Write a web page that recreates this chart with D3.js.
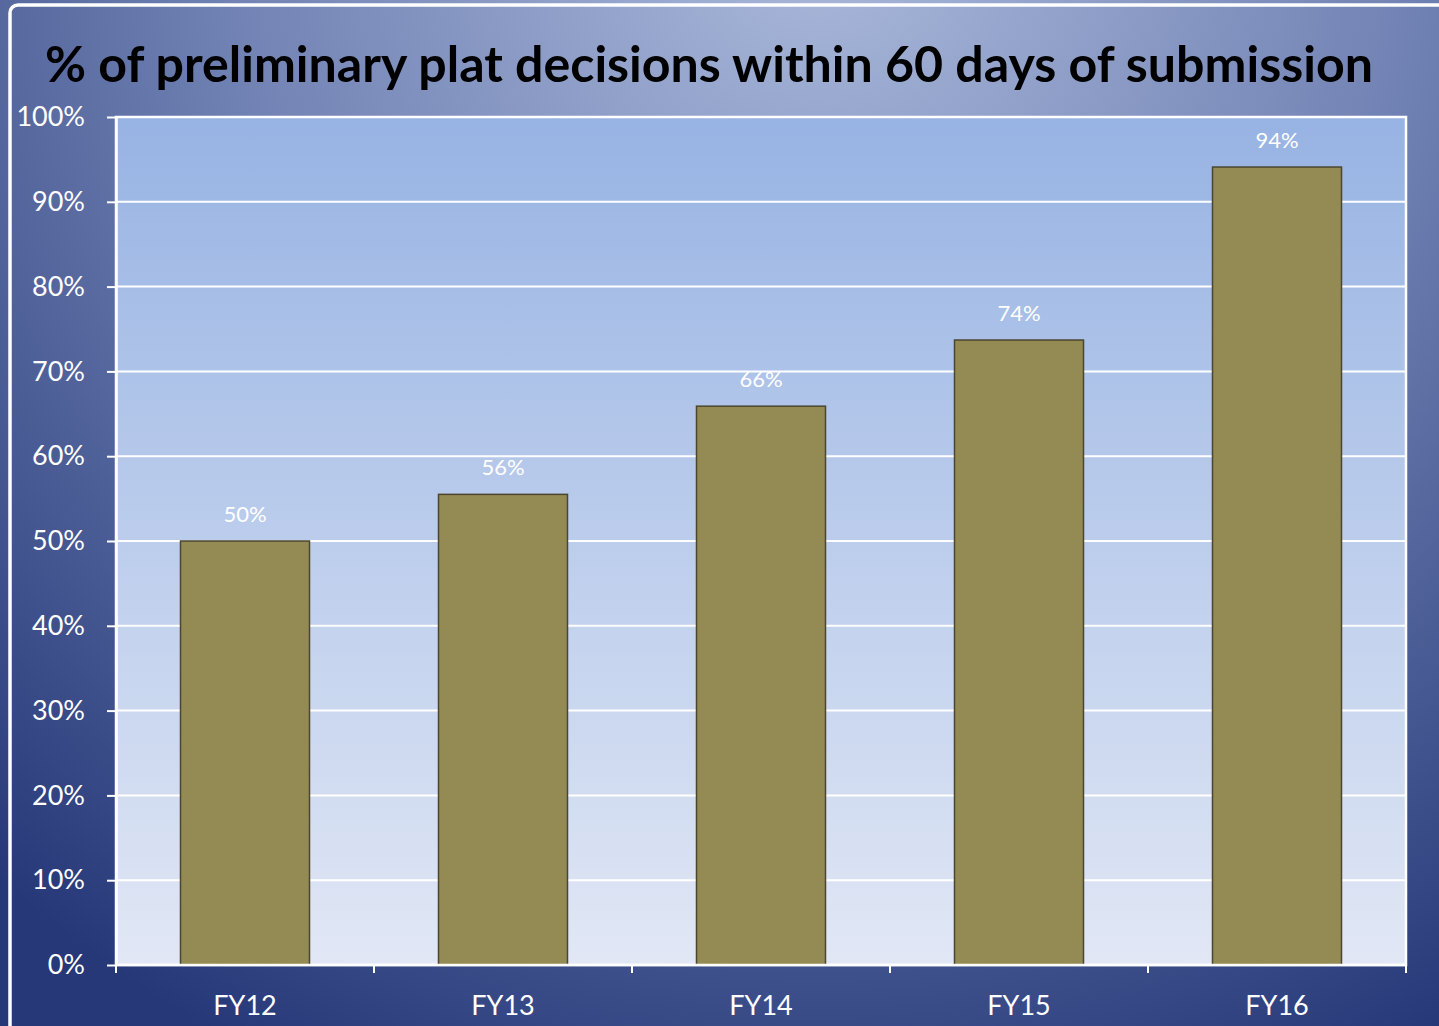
<!DOCTYPE html>
<html>
<head>
<meta charset="utf-8">
<script src="https://cdn.jsdelivr.net/npm/d3@7"></script>
<style>
  html, body { margin: 0; padding: 0; background: #2a3c78; }
  svg { display: block; }
</style>
</head>
<body>
<div id="chart"></div>
<script>
// chart data
const categories = ["FY12", "FY13", "FY14", "FY15", "FY16"];
const values = [0.50, 0.555, 0.659, 0.737, 0.941];
const valueLabels = ["50%", "56%", "66%", "74%", "94%"];
const yTicks = [0, 0.1, 0.2, 0.3, 0.4, 0.5, 0.6, 0.7, 0.8, 0.9, 1.0];
const titleText = "% of preliminary plat decisions within 60 days of submission";

const width = 1439;
const height = 1026;
const margin = { top: 117, right: 33, bottom: 61, left: 116 };
const font = "Lato, 'Open Sans', sans-serif";

const svg = d3.select("#chart").append("svg")
    .attr("width", width)
    .attr("height", height);

const defs = svg.append("defs");

// page background: light at top centre, navy towards the edges
const bgGrad = defs.append("radialGradient")
    .attr("id", "bg-grad")
    .attr("gradientUnits", "userSpaceOnUse")
    .attr("cx", 820).attr("cy", -60).attr("r", 1250);
bgGrad.append("stop").attr("offset", "0%").attr("stop-color", "#aab8da");
bgGrad.append("stop").attr("offset", "45%").attr("stop-color", "#7485b6");
bgGrad.append("stop").attr("offset", "100%").attr("stop-color", "#263878");

// plot area: blue at top, fading to pale at the bottom
const plotGrad = defs.append("linearGradient")
    .attr("id", "plot-grad")
    .attr("x1", 0).attr("y1", 0).attr("x2", 0).attr("y2", 1);
plotGrad.append("stop").attr("offset", "0%").attr("stop-color", "#97b3e3");
plotGrad.append("stop").attr("offset", "100%").attr("stop-color", "#e1e7f5");

svg.append("rect")
    .attr("width", width)
    .attr("height", height)
    .attr("fill", "url(#bg-grad)");

// white outer frame (runs off the right and bottom edges)
svg.append("rect")
    .attr("x", 10).attr("y", 5)
    .attr("width", width + 20).attr("height", height + 20)
    .attr("rx", 8)
    .attr("fill", "none")
    .attr("stroke", "#ffffff")
    .attr("stroke-width", 3.5);

const innerW = width - margin.left - margin.right;
const innerH = height - margin.top - margin.bottom;

const x = d3.scaleBand()
    .domain(categories)
    .range([margin.left, margin.left + innerW])
    .paddingInner(0.5)
    .paddingOuter(0.25);

const y = d3.scaleLinear()
    .domain([0, 1])
    .range([margin.top + innerH, margin.top]);

// plot background
svg.append("rect")
    .attr("x", margin.left)
    .attr("y", margin.top)
    .attr("width", innerW)
    .attr("height", innerH)
    .attr("fill", "url(#plot-grad)");

// gridlines
svg.append("g")
    .selectAll("line")
    .data(yTicks.filter(d => d > 0))
    .join("line")
    .attr("x1", margin.left)
    .attr("x2", margin.left + innerW)
    .attr("y1", d => y(d))
    .attr("y2", d => y(d))
    .attr("stroke", "#ffffff")
    .attr("stroke-width", 2);

// plot border (top/right/left)
svg.append("rect")
    .attr("x", margin.left)
    .attr("y", margin.top)
    .attr("width", innerW)
    .attr("height", innerH)
    .attr("fill", "none")
    .attr("stroke", "#ffffff")
    .attr("stroke-width", 2.5);

// bars
svg.append("g")
    .selectAll("rect")
    .data(values)
    .join("rect")
    .attr("x", (d, i) => x(categories[i]))
    .attr("y", d => y(d))
    .attr("width", x.bandwidth())
    .attr("height", d => y(0) - y(d))
    .attr("fill", "#948a54")
    .attr("stroke", "#4a4630")
    .attr("stroke-width", 1.5);

// value labels
svg.append("g")
    .selectAll("text")
    .data(values)
    .join("text")
    .attr("x", (d, i) => x(categories[i]) + x.bandwidth() / 2)
    .attr("y", d => y(d) - 19)
    .attr("text-anchor", "middle")
    .attr("fill", "#ffffff")
    .style("font-family", font)
    .style("font-size", "22px")
    .text((d, i) => valueLabels[i]);

// y axis
const yAxis = svg.append("g")
    .attr("transform", `translate(${margin.left},0)`)
    .call(d3.axisLeft(y)
        .tickValues(yTicks)
        .tickFormat(d3.format(".0%"))
        .tickSizeInner(9)
        .tickSizeOuter(0)
        .tickPadding(22));
yAxis.select(".domain").attr("stroke", "#ffffff").attr("stroke-width", 2.5);
yAxis.selectAll(".tick line").attr("stroke", "#ffffff").attr("stroke-width", 2);
yAxis.selectAll(".tick text")
    .attr("fill", "#ffffff")
    .style("font-family", font)
    .style("font-size", "27px");

// x axis: labels centred, tick marks on category boundaries
const xAxis = svg.append("g")
    .attr("transform", `translate(0,${y(0)})`)
    .call(d3.axisBottom(x).tickSize(0).tickPadding(31));
xAxis.select(".domain").remove();
xAxis.selectAll(".tick text")
    .attr("fill", "#ffffff")
    .style("font-family", font)
    .style("font-size", "27px");

const half = x.step() * x.paddingInner() / 2;
const bounds = categories.map(c => x(c) - half).concat([x(categories[categories.length - 1]) + x.bandwidth() + half]);

svg.append("line")
    .attr("x1", margin.left)
    .attr("x2", margin.left + innerW)
    .attr("y1", y(0))
    .attr("y2", y(0))
    .attr("stroke", "#ffffff")
    .attr("stroke-width", 2.5);

svg.append("g")
    .selectAll("line")
    .data(bounds)
    .join("line")
    .attr("x1", d => d)
    .attr("x2", d => d)
    .attr("y1", y(0))
    .attr("y2", y(0) + 8)
    .attr("stroke", "#ffffff")
    .attr("stroke-width", 2);

// title, sized to span the same width as the original
const title = svg.append("text")
    .attr("x", 45)
    .attr("y", 82)
    .attr("fill", "#000000")
    .style("font-family", font)
    .style("font-weight", "700")
    .style("font-size", "48px")
    .text(titleText);
const tw = title.node().getComputedTextLength();
title.style("font-size", (48 * 1328 / tw).toFixed(1) + "px");
</script>
</body>
</html>
